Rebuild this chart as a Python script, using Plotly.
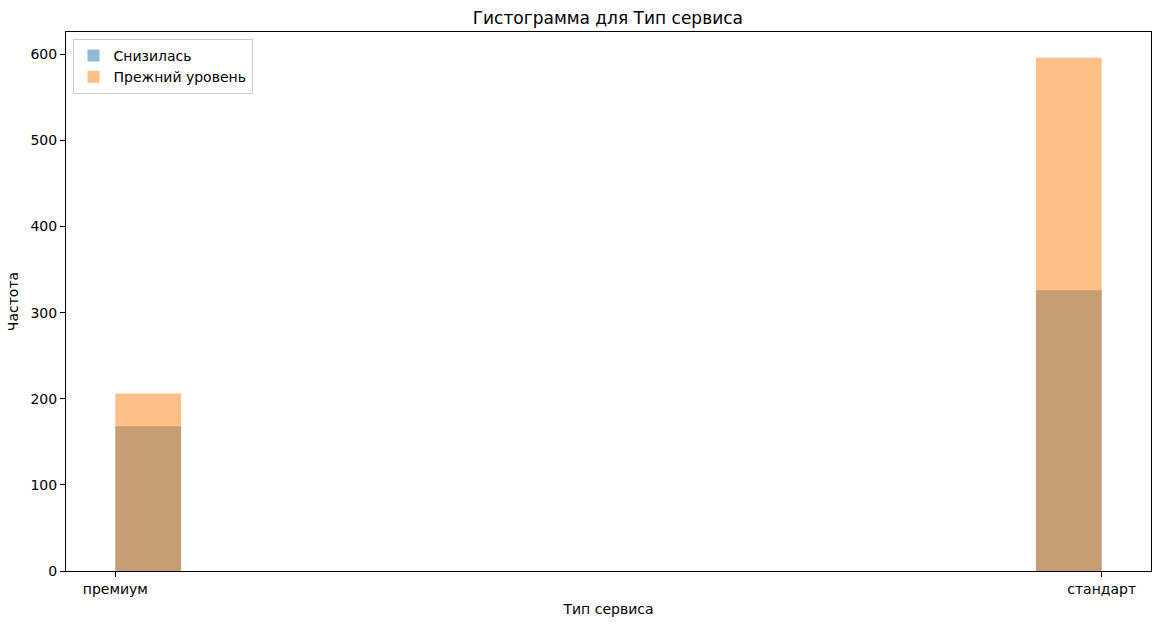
import numpy as np
import plotly.graph_objects as go

categories = ["премиум", "стандарт"]
cat_codes = [0, 1]
decreased = [168, 326]
same_level = [206, 596]
series_names = ["Снизилась", "Прежний уровень"]
n_bins = 15

edges = np.linspace(min(cat_codes), max(cat_codes), n_bins + 1)
width = edges[1] - edges[0]
bin_idx = [min(int(np.searchsorted(edges, c, side="right")) - 1, n_bins - 1) for c in cat_codes]
centers = [(edges[i] + edges[i + 1]) / 2 for i in bin_idx]

fig = go.Figure()
fig.add_trace(go.Bar(x=centers, y=decreased, width=width, name=series_names[0],
                     marker=dict(color="rgba(31,119,180,0.5)", line=dict(width=0))))
fig.add_trace(go.Bar(x=centers, y=same_level, width=width, name=series_names[1],
                     marker=dict(color="rgba(255,127,14,0.5)", line=dict(width=0))))

ymax = max(max(decreased), max(same_level))
fig.update_layout(
    width=1160, height=624,
    margin=dict(l=66, r=9, t=32, b=53, autoexpand=False),
    barmode="overlay",
    plot_bgcolor="white", paper_bgcolor="white",
    font=dict(family="DejaVu Sans", size=14, color="black"),
    title=dict(text="Гистограмма для Тип сервиса", x=0.524, xanchor="center",
               y=0.971, yanchor="middle", font=dict(size=17)),
    xaxis=dict(range=[-0.05, 1.05], tickvals=cat_codes, ticktext=categories,
               showline=True, linecolor="black", linewidth=1, mirror=True, automargin=False,
               ticks="outside", ticklen=5, tickcolor="black", showgrid=False, zeroline=False,
               tickfont=dict(size=14),
               title=dict(text="Тип сервиса", standoff=8, font=dict(size=14))),
    yaxis=dict(range=[0, ymax * 1.05], tickvals=list(range(0, 700, 100)),
               showline=True, linecolor="black", linewidth=1, mirror=True, automargin=False,
               ticks="outside", ticklen=5, tickcolor="black", showgrid=False, zeroline=False,
               tickfont=dict(size=14),
               title=dict(text="Частота", standoff=8, font=dict(size=14))),
    legend=dict(x=0.006, y=0.987, xanchor="left", yanchor="top",
                bgcolor="rgba(255,255,255,0.8)", bordercolor="#cccccc", borderwidth=1,
                font=dict(size=14), itemwidth=30, tracegroupgap=0),
    showlegend=True,
)

fig.write_html("out.html")
